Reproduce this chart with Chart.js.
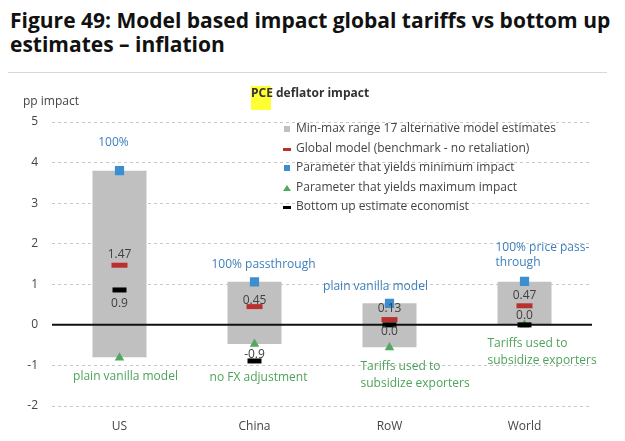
<!DOCTYPE html>
<html>
<head>
<meta charset="utf-8">
<script src="https://cdn.jsdelivr.net/npm/chart.js@4.4.0/dist/chart.umd.min.js"></script>
<style>
  html, body { margin: 0; padding: 0; background: #fff; }
  #wrap { position: relative; width: 625px; height: 441px; overflow: hidden; }
  #title {
    position: absolute; left: 10px; top: 8px; width: 615px;
    font-family: "Open Sans", sans-serif; font-weight: 700; font-size: 21px;
    line-height: 24px; color: #111; white-space: nowrap;
  }
  #rule { position: absolute; left: 8px; top: 72px; width: 599px; height: 1px; background: #d8d8d8; }
  canvas { position: absolute; left: 0; top: 0; }
</style>
</head>
<body>
<div id="wrap">
  <div id="title">Figure 49: Model based impact global tariffs vs bottom up<br>estimates – inflation</div>
  <div id="rule"></div>
  <canvas id="chart" width="625" height="441"></canvas>
</div>
<script>
// du lieu ======================================================================
const categories = ["US", "China", "RoW", "World"];
const rangeMin = [-0.8, -0.47, -0.55, 0.0];
const rangeMax = [3.8, 1.06, 0.53, 1.06];
const globalModel = [1.47, 0.45, 0.13, 0.47];
const minParam = [3.8, 1.06, 0.53, 1.07];
const maxParam = [-0.81, -0.47, -0.56, 0.0];
const bottomUp = [0.86, -0.89, 0.0, 0.0];
const yTicks = [-2, -1, 0, 1, 2, 3, 4, 5];

const minNotes = [["100%"], ["100% passthrough"], ["plain vanilla model"], ["100% price pass-", "through"]];
const maxNotes = [["plain vanilla model"], ["no FX adjustment"], ["Tariffs used to", "subsidize exporters"], ["Tariffs used to", "subsidize exporters"]];

const legendItems = [
  "Min-max range 17 alternative model estimates",
  "Global model (benchmark - no retaliation)",
  "Parameter that yields minimum impact",
  "Parameter that yields maximum impact",
  "Bottom up estimate economist",
];

const GREY = "#c0c0c0";
const RED = "#b8312f";
const BLUE = "#3b8fd0";
const GREEN = "#53a861";
const BLUE_TXT = "#3d7fba";
const GREEN_TXT = "#4ea35a";
const FONT = '"Open Sans", sans-serif';

// zero line over bars
const zeroLine = {
  id: "zeroLine",
  afterDatasetDraw(chart, args) {
    if (args.index !== 0) return;
    const { ctx, chartArea } = chart;
    const y = chart.scales.y.getPixelForValue(0);
    ctx.save();
    ctx.strokeStyle = "#111";
    ctx.lineWidth = 2;
    ctx.beginPath();
    ctx.moveTo(chartArea.left, y);
    ctx.lineTo(chartArea.right, y);
    ctx.stroke();
    ctx.restore();
  },
};

// chu thich, legend, nhan gia tri
const extras = {
  id: "extras",
  afterDraw(chart) {
    const { ctx } = chart;
    const xs = chart.scales.x;
    const ys = chart.scales.y;
    ctx.save();

    // axis title
    ctx.font = "12px " + FONT;
    ctx.fillStyle = "#444";
    ctx.textAlign = "left";
    ctx.textBaseline = "middle";
    ctx.fillText("pp impact", 23, 102);

    // PCE deflator impact
    ctx.fillStyle = "#ffff33";
    ctx.fillRect(251, 86, 20, 24);
    ctx.font = "bold 12px " + FONT;
    ctx.fillStyle = "#333";
    ctx.fillText("PCE deflator impact", 251, 94);

    // legend
    const lx = 284, tx = 296;
    const rows = [129, 149, 168, 188, 207];
    ctx.font = "12px " + FONT;
    legendItems.forEach((t, i) => {
      const y = rows[i];
      if (i === 0) { ctx.fillStyle = GREY; ctx.fillRect(lx, y - 3, 6, 6); }
      if (i === 1) { ctx.fillStyle = RED; ctx.fillRect(lx - 1, y - 1, 8, 3); }
      if (i === 2) { ctx.fillStyle = BLUE; ctx.fillRect(lx, y - 3, 6, 6); }
      if (i === 3) {
        ctx.fillStyle = GREEN;
        ctx.beginPath();
        ctx.moveTo(lx + 3, y - 3); ctx.lineTo(lx + 7, y + 3); ctx.lineTo(lx - 1, y + 3);
        ctx.closePath(); ctx.fill();
      }
      if (i === 4) { ctx.fillStyle = "#000"; ctx.fillRect(lx - 1, y - 1, 8, 3); }
      ctx.fillStyle = "#444";
      ctx.fillText(t, tx, y);
    });

    // blue notes (above min param marker)
    const blueOff = [[-6, -28, "center"], [9, -17, "center"], [-14, -17, "center"], [-29, -34, "left"]];
    ctx.font = "12px " + FONT;
    ctx.fillStyle = BLUE_TXT;
    minNotes.forEach((lines, i) => {
      const [dx, dy, al] = blueOff[i];
      ctx.textAlign = al;
      const x = xs.getPixelForValue(i) + dx;
      const y = ys.getPixelForValue(minParam[i]) + dy;
      lines.forEach((l, k) => ctx.fillText(l, x, y + k * 15));
    });

    // green notes (below max param marker)
    const greenOff = [[6, 19, "center"], [4, 34, "center"], [-29, 19, "left"], [-37, 19, "left"]];
    ctx.fillStyle = GREEN_TXT;
    maxNotes.forEach((lines, i) => {
      const [dx, dy, al] = greenOff[i];
      ctx.textAlign = al;
      const x = xs.getPixelForValue(i) + dx;
      const y = ys.getPixelForValue(maxParam[i]) + dy;
      lines.forEach((l, k) => ctx.fillText(l, x, y + k * 17));
    });

    // value labels
    ctx.fillStyle = "#404040";
    ctx.textAlign = "center";
    ctx.font = "12px " + FONT;
    const redOff = [-11, -6, -11, -10];
    const blackOff = [14, -6, 7, -9];
    categories.forEach((c, i) => {
      const x = xs.getPixelForValue(i);
      ctx.fillText(globalModel[i].toFixed(2), x, ys.getPixelForValue(globalModel[i]) + redOff[i]);
      ctx.fillText(bottomUp[i].toFixed(1), x, ys.getPixelForValue(bottomUp[i]) + blackOff[i]);
    });

    ctx.restore();
  },
};

const chart = new Chart(document.getElementById("chart"), {
  type: "bar",
  data: {
    labels: categories,
    datasets: [
      {
        label: legendItems[0],
        data: rangeMin.map((v, i) => [v, rangeMax[i]]),
        backgroundColor: GREY,
        borderWidth: 0,
        borderSkipped: false,
        barPercentage: 0.4,
        categoryPercentage: 1,
        order: 10,
      },
      {
        type: "line",
        label: legendItems[1],
        data: globalModel,
        showLine: false,
        pointStyle: "line",
        pointRadius: 8,
        pointBorderWidth: 5,
        pointBorderColor: RED,
        pointBackgroundColor: RED,
        order: 3,
      },
      {
        type: "line",
        label: legendItems[2],
        data: minParam,
        showLine: false,
        pointStyle: "rect",
        pointRadius: 6.5,
        pointBorderWidth: 0,
        pointBackgroundColor: BLUE,
        order: 2,
      },
      {
        type: "line",
        label: legendItems[3],
        data: maxParam,
        showLine: false,
        pointStyle: "triangle",
        pointRadius: 5.5,
        pointBorderWidth: 0,
        pointBackgroundColor: GREEN,
        order: 2,
      },
      {
        type: "line",
        label: legendItems[4],
        data: bottomUp,
        showLine: false,
        pointStyle: "line",
        pointRadius: 7,
        pointBorderWidth: 5,
        pointBorderColor: "#000",
        pointBackgroundColor: "#000",
        order: 1,
      },
    ],
  },
  options: {
    responsive: false,
    animation: false,
    layout: { padding: { top: 122, right: 33, left: 0, bottom: 0 } },
    plugins: {
      legend: { display: false },
      tooltip: { enabled: false },
    },
    scales: {
      x: {
        offset: true,
        grid: { display: false },
        border: { display: false },
        ticks: { color: "#444", font: { family: FONT, size: 12 }, padding: 5 },
        afterFit: (s) => { s.height = 35; },
      },
      y: {
        min: -2,
        max: 5,
        afterBuildTicks: (s) => { s.ticks = yTicks.map((v) => ({ value: v })); },
        grid: { color: "#c9c9c9", drawTicks: false, lineWidth: 1 },
        border: { display: false, dash: [3, 3] },
        ticks: { color: "#444", font: { family: FONT, size: 12 }, padding: 14 },
        afterFit: (s) => { s.width = 52; },
      },
    },
  },
  plugins: [zeroLine, extras],
});
</script>
</body>
</html>
